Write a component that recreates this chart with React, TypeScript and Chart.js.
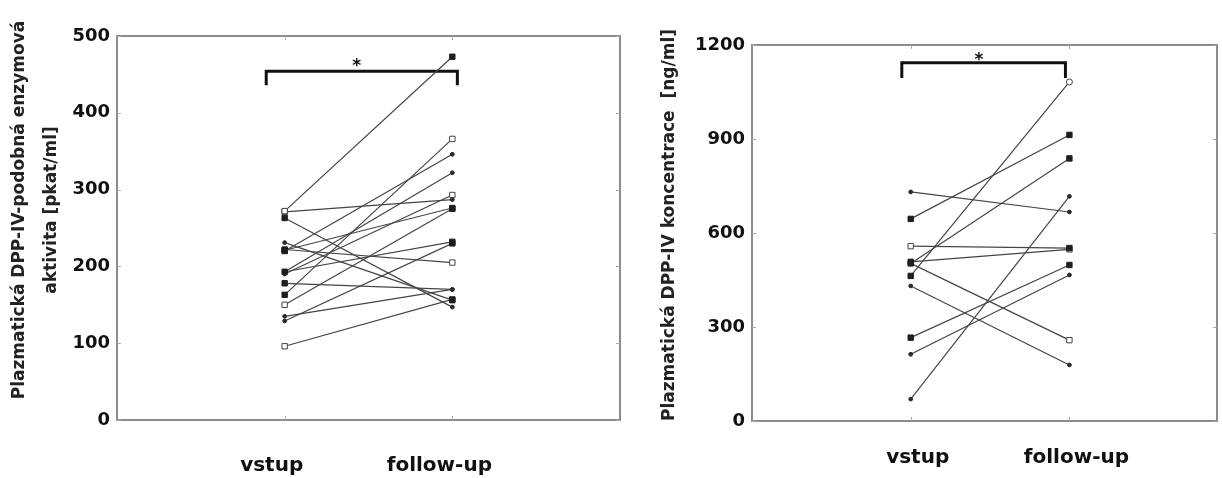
import React, { useEffect, useRef } from 'react';
import { Chart, registerables } from 'chart.js';

Chart.register(...registerables);

// ---------- data ----------
const categories = ['vstup', 'follow-up'];

// Left panel: plasma DPP-IV-like enzymatic activity [pkat/ml]
const activityBaseline = [272, 271, 263, 231, 222, 220, 193, 190, 178, 163, 150, 135, 129, 96, 221, 193];
const activityFollowUp = [473, 287, 147, 156, 205, 346, 322, 293, 170, 366, 275, 170, 230, 157, 276, 232];
const activityMarkers = [
  ['os', 'fs'], ['os', 'dot'], ['fs', 'dot'], ['dot', 'fs'], ['fs', 'os'], ['fs', 'dot'], ['fs', 'dot'], ['dot', 'os'],
  ['fs', 'dot'], ['fs', 'os'], ['os', 'fs'], ['dot', 'dot'], ['dot', 'fs'], ['os', 'fs'], ['fs', 'fs'], ['dot', 'fs'],
];
const activityTicks = [0, 100, 200, 300, 400, 500];
const activityTitle = ['Plazmatická DPP-IV-podobná enzymová', 'aktivita [pkat/ml]'];
const activitySignificance = { from: 0.89, to: 2.03, top: 454, bottom: 436, starX: 1.43, starY: 466 };

// Right panel: plasma DPP-IV concentration [ng/ml]
const concBaseline = [731, 645, 558, 508, 503, 503, 463, 431, 266, 213, 70];
const concFollowUp = [667, 913, 552, 548, 838, 258, 1082, 179, 498, 466, 717];
const concMarkers = [
  ['dot', 'dot'], ['fs', 'fs'], ['os', 'fs'], ['fs', 'os'], ['fs', 'fs'], ['dot', 'os'],
  ['fs', 'oc'], ['dot', 'dot'], ['fs', 'fs'], ['dot', 'dot'], ['dot', 'dot'],
];
const concTicks = [0, 300, 600, 900, 1200];
const concTitle = ['Plazmatická DPP-IV koncentrace  [ng/ml]'];
const concSignificance = { from: 0.944, to: 1.975, top: 1143, bottom: 1095, starX: 1.43, starY: 1162 };

// ---------- styling helpers ----------
const FONT = "'DejaVu Sans', 'Liberation Sans', Arial, sans-serif";
const LINE_COLOR = '#454545';
const MARK_COLOR = '#1e1e1e';

function markerStyle(kind: string) {
  switch (kind) {
    case 'fs':
      return { style: 'rect', radius: 3.8, bg: MARK_COLOR, border: MARK_COLOR };
    case 'os':
      return { style: 'rect', radius: 3.8, bg: '#fff', border: '#444' };
    case 'oc':
      return { style: 'circle', radius: 3, bg: '#fff', border: '#444' };
    default:
      return { style: 'circle', radius: 1.9, bg: '#2a2a2a', border: '#2a2a2a' };
  }
}

const framePlugin = {
  id: 'frame',
  beforeDatasetsDraw(chart: any) {
    const { ctx, chartArea } = chart;
    const { left, right, top, bottom } = chartArea;
    const yScale = chart.scales.y;
    const xScale = chart.scales.x;
    ctx.save();
    ctx.strokeStyle = '#8c8c8c';
    ctx.lineWidth = 2;
    ctx.strokeRect(left, top, right - left, bottom - top);
    ctx.strokeStyle = '#aaa';
    ctx.lineWidth = 1;
    ctx.beginPath();
    yScale.ticks.forEach((t: any) => {
      const y = Math.round(yScale.getPixelForValue(t.value)) + 0.5;
      ctx.moveTo(left, y);
      ctx.lineTo(left + 4, y);
      ctx.moveTo(right - 4, y);
      ctx.lineTo(right, y);
    });
    xScale.ticks.forEach((t: any) => {
      const x = Math.round(xScale.getPixelForValue(t.value)) + 0.5;
      ctx.moveTo(x, bottom);
      ctx.lineTo(x, bottom - 4);
      ctx.moveTo(x, top);
      ctx.lineTo(x, top + 4);
    });
    ctx.stroke();
    ctx.restore();
  },
};

const starPlugin = {
  id: 'star',
  afterDatasetsDraw(chart: any, _args: any, opts: any) {
    const { ctx } = chart;
    const x = chart.scales.x.getPixelForValue(opts.x);
    const y = chart.scales.y.getPixelForValue(opts.y);
    ctx.save();
    ctx.fillStyle = '#111';
    ctx.font = `bold 17px ${FONT}`;
    ctx.textAlign = 'center';
    ctx.textBaseline = 'middle';
    ctx.fillText('*', x, y + 4);
    ctx.restore();
  },
};

// draws the rotated y-axis title at a given place
const yTitlePlugin = {
  id: 'yTitle',
  afterDraw(chart: any, _args: any, opts: any) {
    const { ctx } = chart;
    ctx.save();
    ctx.fillStyle = '#222';
    ctx.font = `bold 17px ${FONT}`;
    ctx.textAlign = 'center';
    ctx.textBaseline = 'middle';
    (opts.lines as string[]).forEach((line, i) => {
      ctx.save();
      ctx.translate(opts.x + i * opts.lineGap, opts.y);
      ctx.rotate(-Math.PI / 2);
      ctx.fillText(line, 0, 0);
      ctx.restore();
    });
    ctx.restore();
  },
};

type PanelProps = {
  baseline: number[];
  followUp: number[];
  markers: string[][];
  ticks: number[];
  title: string[];
  sig: { from: number; to: number; top: number; bottom: number; starX: number; starY: number };
  width: number;
  xMax: number;
  axisWidth: number;
  xAxisHeight: number;
  padding: { left: number; right: number; top: number; bottom: number };
  titleX: number;
  titleY: number;
  titleGap: number;
  xLabelPadding: number;
  xLabelOffset: number;
};

function Panel(p: PanelProps) {
  const ref = useRef<HTMLCanvasElement>(null);
  useEffect(() => {
    if (!ref.current) return;
    const datasets: any[] = p.baseline.map((b, i) => {
      const m0 = markerStyle(p.markers[i][0]);
      const m1 = markerStyle(p.markers[i][1]);
      return {
        data: [
          { x: 1, y: b },
          { x: 2, y: p.followUp[i] },
        ],
        showLine: true,
        borderColor: LINE_COLOR,
        borderWidth: 1.2,
        pointStyle: [m0.style, m1.style],
        pointRadius: [m0.radius, m1.radius],
        pointBackgroundColor: [m0.bg, m1.bg],
        pointBorderColor: [m0.border, m1.border],
        pointBorderWidth: 1,
      };
    });
    datasets.push({
      data: [
        { x: p.sig.from, y: p.sig.bottom },
        { x: p.sig.from, y: p.sig.top },
        { x: p.sig.to, y: p.sig.top },
        { x: p.sig.to, y: p.sig.bottom },
      ],
      showLine: true,
      borderColor: '#111',
      borderWidth: 3,
      pointRadius: 0,
      borderJoinStyle: 'miter',
    });
    const yMax = p.ticks[p.ticks.length - 1];
    const chart = new Chart(ref.current, {
      type: 'scatter',
      data: { datasets },
      plugins: [framePlugin, starPlugin, yTitlePlugin],
      options: {
        animation: false,
        responsive: false,
        devicePixelRatio: 1,
        layout: { padding: p.padding },
        plugins: {
          legend: { display: false },
          tooltip: { enabled: false },
          star: { x: p.sig.starX, y: p.sig.starY },
          yTitle: { lines: p.title, x: p.titleX, y: p.titleY, lineGap: p.titleGap },
        } as any,
        scales: {
          x: {
            type: 'linear',
            min: 0,
            max: p.xMax,
            grid: { display: false, drawTicks: false },
            border: { display: false },
            afterBuildTicks: (axis: any) => {
              axis.ticks = categories.map((_, i) => ({ value: i + 1 }));
            },
            afterFit: (scale: any) => {
              scale.height = p.xAxisHeight;
            },
            ticks: {
              autoSkip: false,
              maxRotation: 0,
              padding: p.xLabelPadding,
              labelOffset: p.xLabelOffset,
              color: '#111',
              font: { family: FONT, size: 20, weight: 'bold' },
              callback: (v: any) => categories[Math.round(v) - 1] ?? '',
            },
          },
          y: {
            type: 'linear',
            min: 0,
            max: yMax,
            grid: { display: false, drawTicks: false },
            border: { display: false },
            afterBuildTicks: (axis: any) => {
              axis.ticks = p.ticks.map((v) => ({ value: v }));
            },
            afterFit: (scale: any) => {
              scale.width = p.axisWidth;
            },
            ticks: {
              padding: 7,
              color: '#111',
              font: { family: FONT, size: 18, weight: 'bold' },
              callback: (v: any) => String(v),
            },
          },
        },
      } as any,
    });
    return () => chart.destroy();
  }, []);
  return <canvas ref={ref} width={p.width} height={478} style={{ display: 'block', width: p.width, height: 478 }} />;
}

export default function App() {
  return (
    <div style={{ position: 'absolute', left: 0, top: 0, width: 1222, height: 478, display: 'flex', background: '#fff' }}>
      <Panel
        baseline={activityBaseline}
        followUp={activityFollowUp}
        markers={activityMarkers}
        ticks={activityTicks}
        title={activityTitle}
        sig={activitySignificance}
        width={632}
        xMax={3}
        axisWidth={117}
        xAxisHeight={58}
        padding={{ left: 0, right: 12, top: 36, bottom: 0 }}
        titleX={20}
        titleY={210}
        titleGap={32}
        xLabelPadding={34}
        xLabelOffset={-13}
      />
      <Panel
        baseline={concBaseline}
        followUp={concFollowUp}
        markers={concMarkers}
        ticks={concTicks}
        title={concTitle}
        sig={concSignificance}
        width={590}
        xMax={2.93}
        axisWidth={120}
        xAxisHeight={57}
        padding={{ left: 0, right: 1, top: 45, bottom: 0 }}
        titleX={38}
        titleY={225}
        titleGap={0}
        xLabelPadding={25}
        xLabelOffset={7}
      />
    </div>
  );
}
